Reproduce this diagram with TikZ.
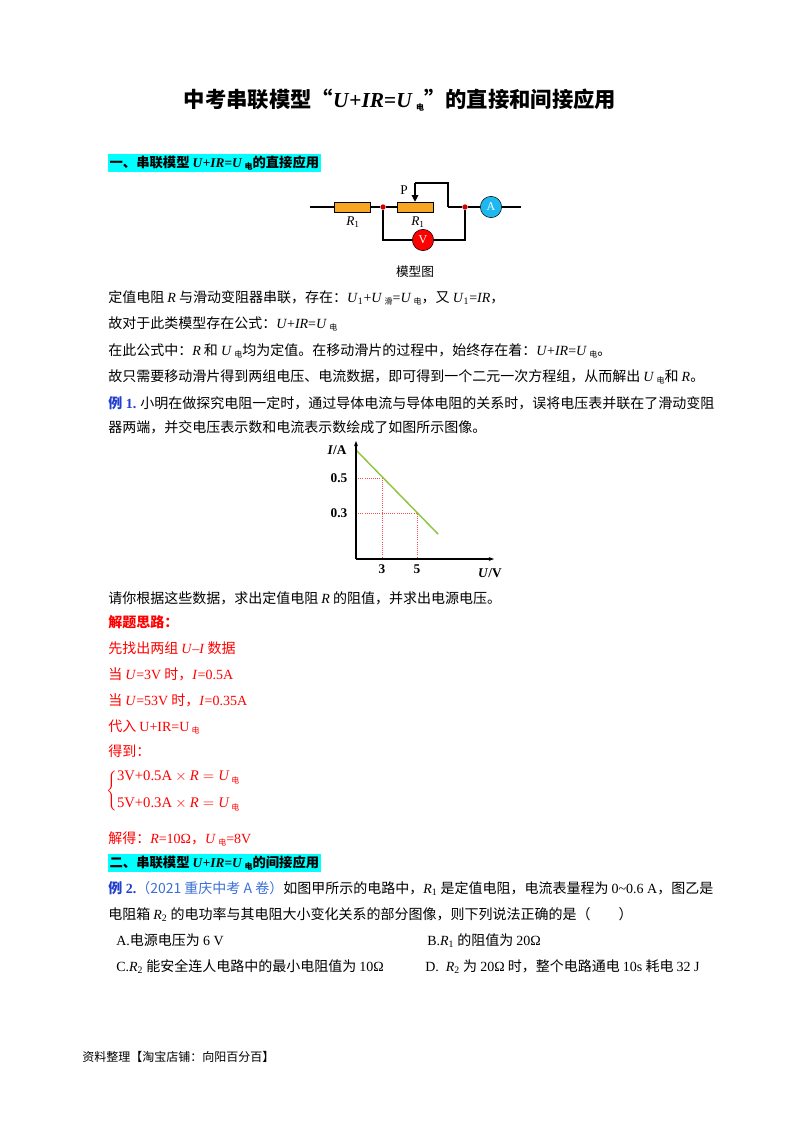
\documentclass[tikz,border=0pt]{standalone}
\usepackage{fontspec}
\usetikzlibrary{arrows.meta}
\setmainfont{Liberation Serif}
\newfontfamily\cjk{Noto Sans CJK SC}
\newcommand\zh[1]{{\cjk #1}}
\newcommand\dn[1]{\raisebox{-0.4ex}{\fontsize{6}{6}\selectfont\cjk #1}}
\definecolor{hl}{HTML}{00FFFF}
\definecolor{exblue}{HTML}{1F3FCC}
\definecolor{srcblue}{HTML}{3A6FD8}
\definecolor{res}{HTML}{F5A623}
\definecolor{amc}{HTML}{1EB8F0}
\definecolor{gline}{HTML}{8DC63F}
\begin{document}
\begin{tikzpicture}[x=0.75pt,y=-0.75pt,
  txt/.style={anchor=base west,inner sep=0pt,font=\fontsize{10.5}{12}\selectfont},
  rtxt/.style={txt,text=red},
  head/.style={anchor=west,inner sep=1pt,fill=hl,font=\fontsize{10}{12}\selectfont\bfseries},
  resist/.style={draw,fill=res,minimum width=27pt,minimum height=7.5pt,inner sep=0pt},
  meter/.style={draw,circle,minimum size=16pt,inner sep=0pt,text=white,font=\fontsize{9}{9}\selectfont},
  dot/.style={circle,fill=red!80!black,inner sep=0pt,minimum size=4pt},
  wire/.style={line width=0.8pt},
  grid/.style={densely dotted,red!70,line width=0.6pt}]
\useasboundingbox (0,0) rectangle (800,1132);
% title
\node[anchor=base,inner sep=0pt,font=\fontsize{16}{18}\selectfont\bfseries] (title) at (400,107)
 {\zh{中考串联模型“}\textit{U}+\textit{IR}=\textit{U}\,\dn{电}\zh{”的直接和间接应用}};
% heading 1
\node[head] (h1) at (108,163) {\zh{一、串联模型 }\textit{U}+\textit{IR}=\textit{U}\,\dn{电}\zh{的直接应用}};
% circuit
\coordinate (L) at (310,207);
\node[resist] (r1) at (352,207) {};
\node[dot] (n1) at (383,207) {};
\node[resist] (r2) at (415,207) {};
\node[dot] (n2) at (465,207) {};
\node[meter,fill=amc] (am) at (491,207) {A};
\coordinate (R) at (521,207);
\coordinate (pt) at (415,183);
\coordinate (pr) at (448,183);
\coordinate (pb) at (448,207);
\node[meter,fill=red] (vm) at (423,240) {V};
\draw[wire] (L) -- (r1) -- (n1) -- (r2);
\draw[wire] (pb) -- (n2) -- (am) -- (R);
\draw[wire] (pb) -- (pr) -- (pt);
\draw[wire,-{Triangle[length=5pt,width=5pt]}] (pt) -- (r2.north);
\draw[wire] (n1) |- (vm) -| (n2);
\node[font=\fontsize{10}{10}\selectfont] (plab) at (404,190) {P};
\node[font=\fontsize{10}{10}\selectfont] (r1lab) at (353,222) {\textit{R}\textsubscript{1}};
\node[font=\fontsize{10}{10}\selectfont] (r2lab) at (418,222) {\textit{R}\textsubscript{1}};
\node[font=\fontsize{9.5}{10}\selectfont\cjk] (cap) at (415,272) {模型图};
% text block
\node[txt] (t1) at (108,302) {\zh{定值电阻 }\textit{R}\zh{ 与滑动变阻器串联，存在：}\textit{U}\textsubscript{1}+\textit{U}\,\dn{滑}=\textit{U}\,\dn{电}\zh{，又 }\textit{U}\textsubscript{1}=\textit{IR}\zh{，}};
\node[txt] (t2) at (108,328) {\zh{故对于此类模型存在公式：}\textit{U}+\textit{IR}=\textit{U}\,\dn{电}};
\node[txt] (t3) at (108,355) {\zh{在此公式中：}\textit{R}\zh{ 和 }\textit{U}\,\dn{电}\zh{均为定值。在移动滑片的过程中，始终存在着：}\textit{U}+\textit{IR}=\textit{U}\,\dn{电}\zh{。}};
\node[txt] (t4) at (108,381) {\zh{故只需要移动滑片得到两组电压、电流数据，即可得到一个二元一次方程组，从而解出 }\textit{U}\,\dn{电}\zh{和 }\textit{R}\zh{。}};
\node[txt] (t5) at (108,408) {\textcolor{exblue}{\bfseries\zh{例} 1.}\zh{ 小明在做探究电阻一定时，通过导体电流与导体电阻的关系时，误将电压表并联在了滑动变阻}};
\node[txt] (t6) at (108,432) {\zh{器两端，并交电压表示数和电流表示数绘成了如图所示图像。}};
% graph
\coordinate (O) at (356,559);
\coordinate (Ytop) at (356,441);
\coordinate (Xend) at (494,559);
\coordinate (pA) at (382,478);
\coordinate (pB) at (417,513);
\coordinate (g1) at (356,450);
\coordinate (g2) at (438,534);
\draw[grid] (O |- pA) -- (pA) -- (pA |- O);
\draw[grid] (O |- pB) -- (pB) -- (pB |- O);
\draw[line width=1.1pt,gline] (g1) -- (g2);
\draw[line width=1pt,-{Stealth[length=4pt]}] (O) -- (Ytop);
\draw[line width=1pt,-{Stealth[length=4pt]}] (O) -- (Xend);
\node[font=\fontsize{10}{10}\selectfont\bfseries] (ia) at (337,450) {\textit{I}/A};
\node[font=\fontsize{10}{10}\selectfont\bfseries] (uv) at (490,573) {\textit{U}/V};
\node[font=\fontsize{10}{10}\selectfont\bfseries] (y5) at (339,478) {0.5};
\node[font=\fontsize{10}{10}\selectfont\bfseries] (y3) at (339,513) {0.3};
\node[font=\fontsize{10}{10}\selectfont\bfseries] (x3) at (382,569) {3};
\node[font=\fontsize{10}{10}\selectfont\bfseries] (x5) at (417,569) {5};
% question
\node[txt] (t7) at (108,603) {\zh{请你根据这些数据，求出定值电阻 }\textit{R}\zh{ 的阻值，并求出电源电压。}};
\node[rtxt] (s0) at (108,627) {\bfseries\zh{解题思路：}};
\node[rtxt] (s1) at (108,653) {\zh{先找出两组 }\textit{U}–\textit{I}\zh{ 数据}};
\node[rtxt] (s2) at (108,679) {\zh{当 }\textit{U}=3V\zh{ 时，}\textit{I}=0.5A};
\node[rtxt] (s3) at (108,705) {\zh{当 }\textit{U}=53V\zh{ 时，}\textit{I}=0.35A};
\node[rtxt] (s4) at (108,731) {\zh{代入 }U+IR=U\,\dn{电}};
\node[rtxt] (s5) at (108,756) {\zh{得到：}};
\node[anchor=west,inner sep=0pt,text=red,font=\fontsize{11}{12}\selectfont] (eq) at (106,791)
 {$\left\{\begin{array}{@{}l}
 \textrm{3V+0.5A}\times \textit{R} = \textit{U}\,\dn{电}\\[8pt]
 \textrm{5V+0.3A}\times \textit{R} = \textit{U}\,\dn{电}
 \end{array}\right.$};
\node[rtxt] (s6) at (108,843) {\zh{解得：}\textit{R}=10Ω\zh{，}\textit{U}\,\dn{电}=8V};
% heading 2
\node[head] (h2) at (108,863) {\zh{二、串联模型 }\textit{U}+\textit{IR}=\textit{U}\,\dn{电}\zh{的间接应用}};
\node[txt] (e1) at (108,893) {\textcolor{exblue}{\bfseries\zh{例} 2.}\textcolor{srcblue}{\zh{（2021 重庆中考 A 卷）}}\zh{如图甲所示的电路中，}\textit{R}\textsubscript{1}\zh{ 是定值电阻，电流表量程为 }0\textasciitilde 0.6 A\zh{，图乙是}};
\node[txt] (e2) at (108,919) {\zh{电阻箱 }\textit{R}\textsubscript{2}\zh{ 的电功率与其电阻大小变化关系的部分图像，则下列说法正确的是（\qquad ）}};
\node[txt] (oa) at (116,945) {A.\zh{电源电压为 }6 V};
\node[txt] (ob) at (427,945) {B.\textit{R}\textsubscript{1}\zh{ 的阻值为 }20Ω};
\node[txt] (oc) at (116,971) {C.\textit{R}\textsubscript{2}\zh{ 能安全连人电路中的最小电阻值为 }10Ω};
\node[txt] (od) at (425,971) {D.\ \ \textit{R}\textsubscript{2}\zh{ 为 }20Ω\zh{ 时，整个电路通电 }10s\zh{ 耗电 }32 J};
\node[txt,font=\fontsize{9}{10}\selectfont] (foot) at (82,1061) {\zh{资料整理【淘宝店铺：向阳百分百】}};
\end{tikzpicture}
\end{document}
